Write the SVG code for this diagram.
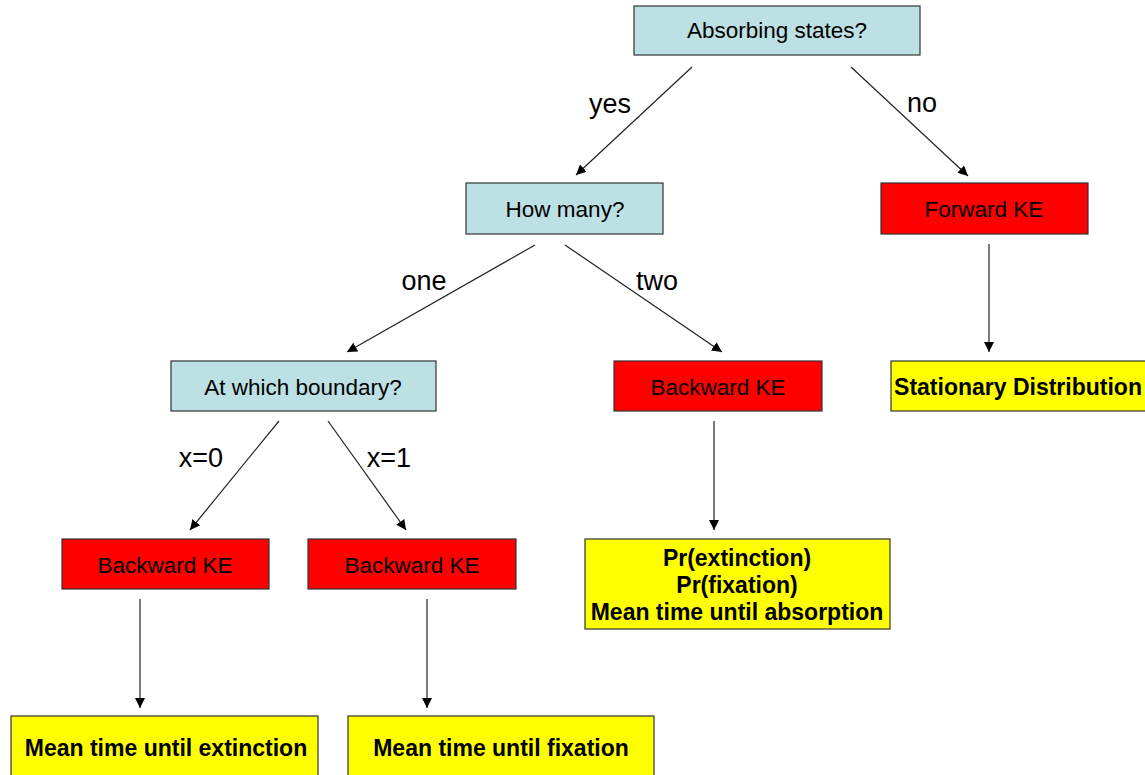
<svg xmlns="http://www.w3.org/2000/svg" width="1145" height="775" viewBox="0 0 1145 775">
<defs>
<style>
.q{fill:#bce0e3;stroke:#333;stroke-width:1.2}
.r{fill:#ff0000;stroke:#333;stroke-width:1.2}
.y{fill:#ffff00;stroke:#333;stroke-width:1.2}
.t{font-family:"Liberation Sans",Arial,sans-serif;font-size:22.5px;fill:#000;text-anchor:middle}
.b{font-family:"Liberation Sans",Arial,sans-serif;font-size:23px;font-weight:bold;fill:#000;text-anchor:middle}
.l{font-family:"Liberation Sans",Arial,sans-serif;font-size:27px;fill:#000;text-anchor:middle}
.c{stroke:#222;stroke-width:1.2;fill:none;marker-end:url(#ah)}
</style>
<marker id="ah" viewBox="0 0 10 10" refX="10" refY="5" markerWidth="10" markerHeight="10" markerUnits="userSpaceOnUse" orient="auto">
<path d="M0,0 L10,5 L0,10 z" fill="#000"/>
</marker>
</defs>
<rect width="1145" height="775" fill="#fff"/>
<g id="connectors">
<line class="c" x1="692" y1="67" x2="576" y2="175"/>
<line class="c" x1="851" y1="67" x2="968" y2="176"/>
<line class="c" x1="535" y1="245" x2="347" y2="352"/>
<line class="c" x1="565" y1="245" x2="722" y2="352"/>
<line class="c" x1="279" y1="421" x2="190" y2="530"/>
<line class="c" x1="328" y1="421" x2="406" y2="530"/>
<line class="c" x1="989" y1="244" x2="989" y2="352"/>
<line class="c" x1="714" y1="421" x2="714" y2="530"/>
<line class="c" x1="140" y1="599" x2="140" y2="708"/>
<line class="c" x1="427" y1="599" x2="427" y2="708"/>
<text class="l" x="610" y="113">yes</text>
<text class="l" x="922" y="112">no</text>
<text class="l" x="424" y="290">one</text>
<text class="l" x="657" y="290">two</text>
<text class="l" x="201" y="467">x=0</text>
<text class="l" x="389" y="467">x=1</text>
</g>
<g id="absorbing">
<rect class="q" x="634" y="6" width="286" height="49"/>
<text class="t" x="777" y="38">Absorbing states?</text>
</g>
<g id="howmany">
<rect class="q" x="466" y="183" width="197" height="51"/>
<text class="t" x="565" y="217">How many?</text>
</g>
<g id="forward">
<rect class="r" x="881" y="183" width="207" height="51"/>
<text class="t" x="984" y="217">Forward KE</text>
</g>
<g id="boundary">
<rect class="q" x="171" y="361" width="265" height="50"/>
<text class="t" x="303" y="395">At which boundary?</text>
</g>
<g id="backward2">
<rect class="r" x="614" y="361" width="208" height="50"/>
<text class="t" x="718" y="395">Backward KE</text>
</g>
<g id="stationary">
<rect class="y" x="891" y="361" width="260" height="50"/>
<text class="b" x="1018" y="395">Stationary Distribution</text>
</g>
<g id="backward0">
<rect class="r" x="62" y="539" width="207" height="50"/>
<text class="t" x="165" y="573">Backward KE</text>
</g>
<g id="backward1">
<rect class="r" x="308" y="539" width="208" height="50"/>
<text class="t" x="412" y="573">Backward KE</text>
</g>
<g id="prbox">
<rect class="y" x="585" y="539" width="305" height="90"/>
<text class="b" x="737" y="566">Pr(extinction)</text>
<text class="b" x="737" y="593">Pr(fixation)</text>
<text class="b" x="737" y="620">Mean time until absorption</text>
</g>
<g id="extinction">
<rect class="y" x="11" y="716" width="307" height="70"/>
<text class="b" x="166" y="756">Mean time until extinction</text>
</g>
<g id="fixation">
<rect class="y" x="348" y="716" width="306" height="70"/>
<text class="b" x="501" y="756">Mean time until fixation</text>
</g>
</svg>
